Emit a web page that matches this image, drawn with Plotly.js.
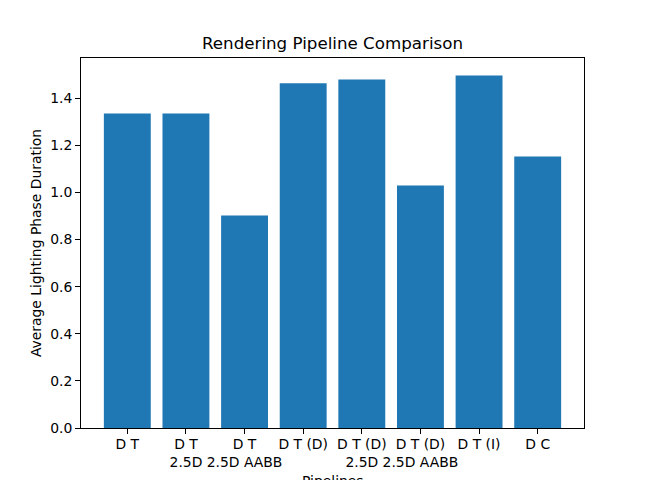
<!DOCTYPE html>
<html>
<head>
<meta charset="utf-8">
<script src="https://cdn.plot.ly/plotly-3.0.1.min.js"></script>
<style>
  html, body { margin: 0; padding: 0; background: #fff; }
  #chart { width: 649px; height: 480px; }
</style>
</head>
<body>
<div id="chart"></div>
<script>
// --- DATA ---
const pipelines = [
    "D T",
    "D T<br>2.5D",
    "D T<br>2.5D AABB",
    "D T (D)",
    "D T (D)<br>2.5D",
    "D T (D)<br>2.5D AABB",
    "D T (I)",
    "D C"
];
const durations = [1.335, 1.335, 0.902, 1.464, 1.480, 1.030, 1.497, 1.153];
const positions = pipelines.map((_, i) => i);
const yTicks = [0, 0.2, 0.4, 0.6, 0.8, 1.0, 1.2, 1.4];

const FONT = "DejaVu Sans, sans-serif";
const PLOT_TOP = 58, PLOT_BOTTOM = 428;

let trace = {
    type: 'bar',
    x: positions,
    y: durations,
    width: 0.8,
    marker: { color: '#1f77b4', line: { width: 0 } },
    hoverinfo: 'x+y'
};

let layout = {
    width: 649,
    height: 480,
    margin: { l: 81, r: 65, t: PLOT_TOP, b: 480 - PLOT_BOTTOM },
    paper_bgcolor: '#ffffff',
    plot_bgcolor: '#ffffff',
    font: { family: FONT, size: 13.9, color: '#000' },
    showlegend: false,
    title: {
        text: 'Rendering Pipeline Comparison',
        font: { family: FONT, size: 16.7, color: '#000' },
        xref: 'paper', x: 0.5, xanchor: 'center',
        y: 1 - 43 / 480, yanchor: 'middle'
    },
    xaxis: {
        range: [-0.79, 7.79],
        tickmode: 'array',
        tickvals: positions,
        ticktext: pipelines,
        tickangle: 0,
        ticks: 'outside', ticklen: 5, tickwidth: 1, tickcolor: '#000',
        ticklabelstandoff: -2,
        showgrid: false, zeroline: false,
        showline: true, mirror: true, linecolor: '#000', linewidth: 1,
        tickfont: { family: FONT, size: 13.9 }
    },
    yaxis: {
        range: [0, 1.571],
        tickmode: 'array',
        tickvals: yTicks,
        ticktext: yTicks.map(v => v.toFixed(1)),
        ticks: 'outside', ticklen: 5, tickwidth: 1, tickcolor: '#000',
        showgrid: false, zeroline: false,
        showline: true, mirror: true, linecolor: '#000', linewidth: 1,
        tickfont: { family: FONT, size: 13.9 },
        title: { text: 'Average Lighting Phase Duration', font: { family: FONT, size: 13.9 }, standoff: 5 }
    },
    annotations: [{
        // x-axis title sits below the two-line tick labels, clipped by the figure edge
        text: 'Pipelines',
        xref: 'paper', yref: 'paper',
        x: 0.5, xanchor: 'center',
        y: (PLOT_BOTTOM - 471) / (PLOT_BOTTOM - PLOT_TOP), yanchor: 'top',
        showarrow: false,
        font: { family: FONT, size: 13.9, color: '#000' }
    }]
};

Plotly.newPlot('chart', [trace], layout, { displayModeBar: false, staticPlot: true });
</script>
</body>
</html>
